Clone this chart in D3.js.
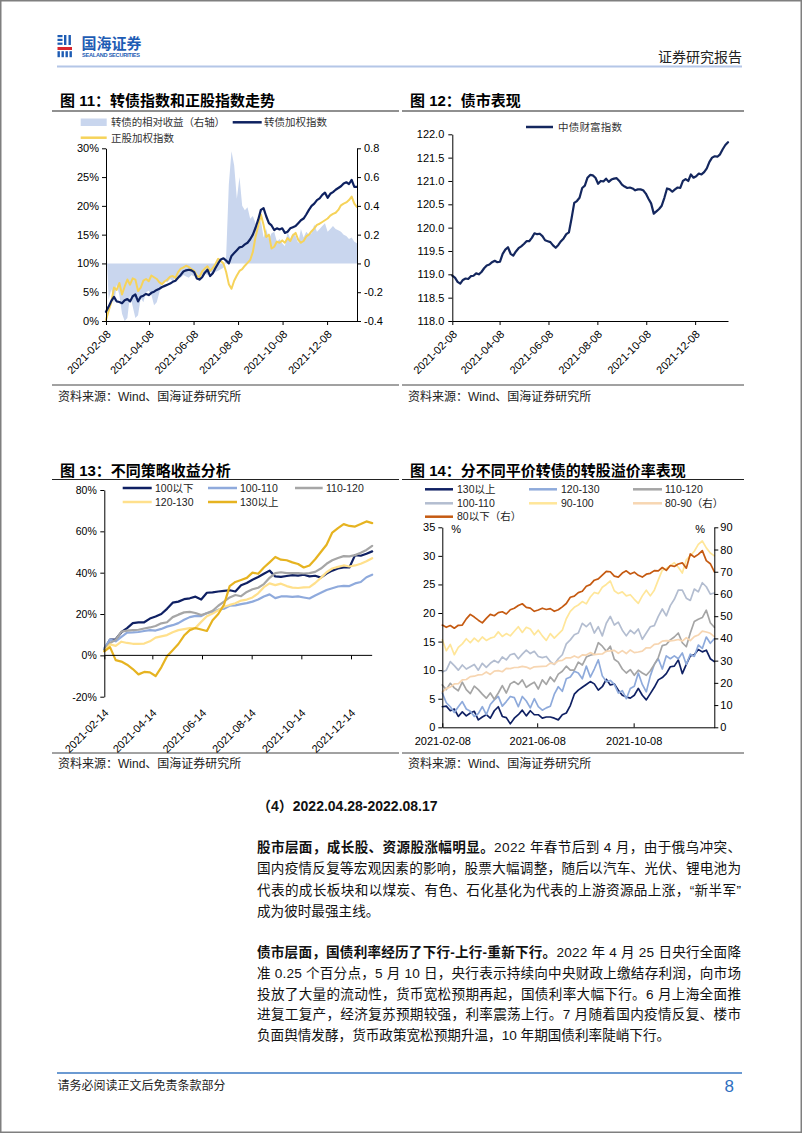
<!DOCTYPE html>
<html><head><meta charset="utf-8">
<script src="https://cdn.jsdelivr.net/npm/d3@7"></script>
<style>
body{margin:0;background:#fff;}
svg{display:block;}
</style></head>
<body><svg id="page" width="802" height="1133"></svg>
<script>
// ---------------- DATA ----------------
// Chart 11 (daily-ish, evenly spread from start to end)
const c11Start = "2021-02-08", c11End = "2022-01-18";
const c11TickDates = ["2021-02-08","2021-04-08","2021-06-08","2021-08-08","2021-10-08","2021-12-08"];
const c11LeftTicks = [0,5,10,15,20,25,30];
const c11RightTicks = [-0.4,-0.2,0,0.2,0.4,0.6,0.8];
const c11RightLabels = ["-0.4","-0.2","0","0.2","0.4","0.6","0.8"];
const c11Names = ["转债的相对收益（右轴）","转债加权指数","正股加权指数"];
const c11Relative = [0.18,-0.25,-0.18,-0.28,-0.15,-0.22,-0.35,-0.40,-0.38,-0.22,-0.30,-0.38,-0.36,-0.24,-0.27,-0.20,-0.19,-0.22,-0.29,-0.27,-0.20,-0.14,-0.12,-0.13,-0.11,-0.12,-0.10,-0.09,-0.10,-0.08,-0.09,-0.10,-0.08,-0.09,-0.07,-0.09,-0.08,-0.07,-0.08,-0.06,-0.07,-0.06,-0.05,-0.04,-0.03,0.05,0.55,0.78,0.68,0.45,0.60,0.40,0.37,0.39,0.31,0.33,0.28,0.24,0.30,0.18,0.24,0.17,0.21,0.22,0.15,0.17,0.14,0.12,0.22,0.17,0.21,0.19,0.14,0.24,0.18,0.22,0.20,0.21,0.27,0.22,0.24,0.26,0.28,0.22,0.24,0.26,0.24,0.23,0.22,0.20,0.19,0.17,0.18,0.15,0.14];
const c11Convert = [1.6,2.5,3.5,4.2,3.4,3.3,3.1,3.6,3.8,3.4,4.3,4.6,3.4,4.2,4.4,4.7,4.5,4.9,5.1,5.4,5.6,5.9,6.1,6.3,6.5,6.8,7.0,7.5,8.0,8.6,8.8,8.9,8.8,8.5,7.4,7.2,7.6,8.4,8.9,7.8,8.3,9.2,10.0,10.7,10.9,10.5,10.0,11.3,11.8,12.3,12.8,12.9,13.3,13.6,14.2,15.0,16.2,17.6,19.3,19.6,18.2,17.0,16.6,15.8,16.1,15.9,16.1,15.3,15.5,16.1,16.3,16.5,17.0,17.5,17.8,18.5,19.3,20.0,20.4,21.0,21.3,21.9,22.3,21.4,22.1,22.4,22.8,23.1,23.4,23.9,24.1,23.8,24.5,23.3,23.3];
const c11Stock = [0.2,1.8,3.3,5.8,5.4,6.6,4.6,6.0,7.2,6.3,7.4,7.2,5.2,5.8,7.0,7.3,6.9,7.9,7.6,7.3,6.7,6.4,6.9,7.2,7.7,7.8,7.5,8.5,9.1,9.3,9.6,9.4,9.0,8.7,7.9,7.6,8.6,9.1,9.5,8.7,9.2,9.9,10.8,10.4,10.0,8.5,6.4,5.6,7.0,7.9,8.7,9.0,9.6,10.1,10.6,12.0,14.6,16.5,18.5,16.7,14.6,15.0,12.6,12.9,13.8,13.6,14.0,13.6,14.4,13.9,14.9,15.3,14.1,13.6,13.9,14.7,15.0,15.6,16.1,16.7,16.9,17.2,17.5,17.8,18.3,18.6,18.8,19.3,20.1,20.4,20.6,21.0,21.6,20.4,19.8];

// Chart 12
const c12Ticks = [118.0,118.5,119.0,119.5,120.0,120.5,121.0,121.5,122.0];
const c12Name = "中债财富指数";
const c12Bond = [118.97,118.93,118.84,118.80,118.88,118.91,118.90,118.96,118.97,119.02,119.00,119.05,119.13,119.19,119.21,119.26,119.29,119.26,119.27,119.44,119.53,119.58,119.44,119.40,119.49,119.56,119.60,119.65,119.71,119.71,119.78,119.88,119.86,119.87,119.82,119.73,119.71,119.69,119.62,119.57,119.63,119.71,119.77,119.86,119.90,120.20,120.53,120.57,120.64,120.85,120.90,121.07,121.13,121.12,121.07,120.94,121.00,120.99,121.05,120.98,121.03,121.05,121.06,121.00,120.92,120.88,120.85,120.86,120.84,120.80,120.82,120.82,120.80,120.73,120.62,120.52,120.30,120.35,120.40,120.47,120.64,120.84,120.82,120.77,120.82,120.86,120.85,121.00,121.04,121.00,121.14,121.07,121.10,121.16,121.14,121.19,121.27,121.41,121.50,121.53,121.52,121.57,121.68,121.77,121.83];

// Chart 13 (weekly from start)
const c13Start = "2021-02-14";
const c13TickDates = ["2021-02-14","2021-04-14","2021-06-14","2021-08-14","2021-10-14","2021-12-14"];
const c13Ticks = [-20,0,20,40,60,80];
const c13Names = ["100以下","100-110","110-120","120-130","130以上"];
const c13Below100 = [2.7,7.6,7.8,11.2,13.2,15.6,16.0,16.0,17.8,18.8,20.0,22.5,25.5,26.0,27.2,27.6,28.4,27.0,30.3,30.5,30.9,31.2,31.5,30.9,33.9,35.0,36.6,37.9,39.5,41.0,38.2,38.0,38.4,38.8,38.6,39.0,38.2,38.5,37.6,39.6,41.0,42.0,42.6,42.5,48.5,48.2,49.2,50.3];
const c13R100_110 = [3.5,7.6,6.8,8.9,11.0,11.1,11.3,11.8,12.2,12.0,12.8,13.9,14.6,15.6,17.2,18.5,19.1,19.0,20.5,21.0,22.1,22.6,24.0,24.2,24.8,25.3,26.0,27.0,28.5,29.5,27.7,28.5,28.5,28.3,28.5,28.0,27.5,29.0,30.3,31.6,32.5,33.3,33.6,33.5,34.8,35.5,37.8,39.0];
const c13R110_120 = [2.7,6.0,7.5,11.5,12.0,12.2,12.4,13.0,13.5,14.2,15.5,16.0,18.5,19.7,20.8,21.0,20.5,19.5,20.4,21.6,24.0,26.0,28.0,29.2,28.6,30.7,32.0,32.7,34.5,37.5,39.8,40.2,39.8,39.8,39.8,39.6,39.8,40.4,42.0,44.3,46.0,47.1,48.0,47.9,48.5,49.6,51.0,53.0];
const c13R120_130 = [2.0,5.3,4.6,6.6,6.0,5.6,5.6,5.7,6.8,8.6,9.2,9.8,11.2,12.2,12.7,13.2,13.3,16.2,18.9,20.2,21.8,23.5,24.4,25.2,26.5,27.0,28.0,30.0,33.0,34.8,34.0,34.7,33.5,32.8,32.6,32.9,33.0,35.0,37.5,40.2,42.0,42.8,43.5,43.0,43.5,44.3,45.5,47.0];
const c13Above130 = [1.9,4.0,-2.3,-3.0,-4.5,-6.6,-9.2,-8.0,-8.2,-10.0,-5.8,-0.4,2.5,5.5,9.6,12.2,13.2,12.5,11.8,17.0,20.0,24.5,33.5,35.5,36.5,37.5,40.0,39.5,42.5,45.0,47.6,46.3,46.0,45.0,44.2,42.5,43.5,46.5,50.0,53.5,59.4,61.6,63.5,62.6,62.3,63.5,64.8,64.0];

// Chart 14 (evenly spread from start to end)
const c14Start = "2021-02-08", c14End = "2022-01-18";
const c14TickDates = ["2021-02-08","2021-06-08","2021-10-08"];
const c14LeftTicks = [0,5,10,15,20,25,30,35];
const c14RightTicks = [0,10,20,30,40,50,60,70,80,90];
const c14Names = ["130以上","120-130","110-120","100-110","90-100","80-90（右）","80以下（右）"];
const c14Above130 = [3.6,3.7,2.9,3.2,1.9,2.7,2.0,2.5,2.8,1.3,1.8,2.2,1.6,2.9,3.6,1.9,1.7,0.6,1.6,2.2,3.0,2.0,2.9,2.2,2.2,1.6,1.8,1.8,1.6,1.3,2.2,2.5,3.8,5.8,6.5,7.0,7.5,8.0,7.6,6.5,7.1,8.4,7.4,7.6,6.5,5.6,5.3,5.1,5.6,6.8,5.6,4.8,5.9,7.0,8.3,8.7,9.4,10.6,10.7,11.8,9.4,11.0,12.5,12.7,13.6,13.2,13.5,12.0,11.5];
const c14R120_130 = [6.0,4.3,3.6,2.6,3.6,4.5,3.2,2.8,1.9,2.4,3.6,2.2,4.0,4.8,5.4,3.7,4.5,5.4,5.2,3.6,5.4,4.6,3.4,5.0,3.6,3.0,3.4,3.7,5.8,7.1,6.3,8.5,8.8,9.8,9.5,8.5,10.7,8.8,10.2,11.8,9.0,8.0,8.2,7.5,6.0,6.4,5.0,6.8,7.2,9.5,7.5,6.2,9.0,11.0,12.0,10.2,12.5,12.0,12.5,12.0,13.0,11.0,12.8,12.4,14.4,13.8,15.8,14.7,15.5];
const c14R110_120 = [7.4,6.6,7.7,6.9,6.4,7.9,6.6,5.9,7.2,6.6,5.8,5.1,6.0,4.9,6.0,7.3,6.0,7.6,8.0,7.5,8.3,7.0,7.5,7.9,6.7,8.3,7.5,8.8,8.0,9.3,9.8,10.7,10.0,10.0,11.4,10.9,12.3,12.6,12.8,14.8,14.2,13.3,14.2,11.9,11.4,10.2,9.5,10.1,9.1,10.0,9.5,9.1,9.9,11.0,12.2,14.3,14.5,15.3,15.8,16.5,14.8,14.1,16.5,18.5,18.9,19.2,20.5,18.3,17.5];
const c14R100_110 = [9.7,10.0,11.5,10.8,10.0,10.9,10.2,10.6,11.0,10.0,11.2,10.5,11.2,11.7,11.3,12.3,11.8,12.7,12.9,12.0,12.8,13.5,12.9,13.3,12.4,12.2,12.4,11.5,11.0,12.0,12.7,14.6,15.3,16.2,16.5,18.2,17.6,18.3,16.5,17.6,16.0,18.2,19.4,17.9,18.4,17.0,16.0,17.0,16.4,17.2,15.4,16.5,17.6,17.8,19.4,20.7,19.5,21.3,22.4,24.0,24.0,22.6,22.2,24.2,23.7,25.3,24.6,23.3,23.5];
const c14R90_100 = [15.3,13.4,14.5,12.7,14.0,14.6,15.5,14.8,15.6,15.0,15.8,15.2,15.6,15.8,16.7,15.9,16.4,16.0,16.8,17.6,16.6,17.5,17.2,16.2,17.0,16.0,15.2,16.4,15.6,16.3,17.0,19.0,20.3,21.0,21.4,22.0,21.6,22.8,23.6,23.4,24.5,25.0,25.6,23.9,23.4,23.7,23.0,23.2,22.4,21.7,23.0,24.0,23.0,24.0,25.8,27.5,27.8,28.3,28.8,28.0,27.0,29.3,30.0,30.8,32.0,32.6,31.4,30.5,30.0];
const c14R80_90 = [16.0,17.4,18.1,19.5,19.6,21.3,21.5,22.8,23.0,23.6,23.7,24.9,23.8,25.3,25.5,25.0,26.5,26.4,26.9,27.0,27.4,27.1,26.3,27.2,27.3,27.4,27.5,28.9,28.5,29.9,30.1,31.3,31.2,32.1,31.3,32.6,32.5,33.6,32.7,32.9,33.0,34.3,34.4,34.6,33.3,34.5,33.2,34.8,33.6,33.9,34.3,35.8,35.7,37.3,37.5,38.8,39.0,38.9,39.1,39.5,38.8,40.3,39.0,40.8,41.5,43.3,42.9,42.3,40.8];
const c14Below80 = [46.0,45.0,45.8,44.6,45.9,46.0,48.8,50.8,49.6,48.2,47.0,49.0,50.8,50.2,51.6,52.0,51.0,52.9,53.6,54.8,55.6,54.0,53.6,52.2,52.8,53.6,53.0,53.4,52.2,52.9,54.2,55.7,58.5,59.0,60.6,61.2,63.5,64.2,66.2,66.8,68.5,70.2,70.0,68.0,67.6,69.4,70.4,69.0,69.8,68.4,67.6,68.9,69.3,70.5,70.4,71.9,70.6,72.8,72.4,73.5,74.0,71.6,78.0,76.6,77.8,79.5,75.0,73.6,70.0];

// Text
const headerRight = "证券研究报告";
const sourceText = "资料来源：Wind、国海证券研究所";
const footerText = "请务必阅读正文后免责条款部分";
const pageNo = "8";
const sectionHead = "（4）2022.04.28-2022.08.17";
const para1 = [
  [["股市层面，成长股、资源股涨幅明显。", true], ["2022 年春节后到 4 月，由于俄乌冲突、", false]],
  [["国内疫情反复等宏观因素的影响，股票大幅调整，随后以汽车、光伏、锂电池为", false]],
  [["代表的成长板块和以煤炭、有色、石化基化为代表的上游资源品上涨，“新半军”", false]],
  [["成为彼时最强主线。", false]]
];
const para2 = [
  [["债市层面，国债利率经历了下行-上行-重新下行。", true], ["2022 年 4 月 25 日央行全面降", false]],
  [["准 0.25 个百分点，5 月 10 日，央行表示持续向中央财政上缴结存利润，向市场", false]],
  [["投放了大量的流动性，货币宽松预期再起，国债利率大幅下行。6 月上海全面推", false]],
  [["进复工复产，经济复苏预期较强，利率震荡上行。7 月随着国内疫情反复、楼市", false]],
  [["负面舆情发酵，货币政策宽松预期升温，10 年期国债利率陡峭下行。", false]]
];

// ---------------- DRAW ----------------
const ARIAL = '"Liberation Sans","Noto Sans CJK SC",sans-serif';
const CJK = '"Noto Sans CJK SC",sans-serif';
const svg = d3.select("#page");
const parse = d3.utcParse("%Y-%m-%d");
const fmt = d3.utcFormat("%Y-%m-%d");

function spreadDates(start, end, n) {
  const s = d3.scaleLinear().domain([0, n - 1]).range([+parse(start), +parse(end)]);
  return d3.range(n).map(i => new Date(s(i)));
}
function styleAxis(g, fs) {
  g.attr("font-family", ARIAL).attr("font-size", fs);
  g.selectAll("path.domain").attr("stroke", "#000").attr("stroke-width", 1);
  g.selectAll(".tick line").attr("stroke", "#000");
  g.selectAll("text").attr("fill", "#000");
}
function rule(x1, x2, y, color, w) {
  svg.append("line").attr("x1", x1).attr("x2", x2).attr("y1", y).attr("y2", y)
    .attr("stroke", color).attr("stroke-width", w);
}
function txt(x, y, s, opt) {
  opt = opt || {};
  return svg.append("text").attr("x", x).attr("y", y).text(s)
    .attr("font-family", opt.ff || CJK).attr("font-size", opt.fs || 12)
    .attr("font-weight", opt.fw || 400).attr("fill", opt.fill || "#000")
    .attr("text-anchor", opt.anchor || "start")
    .attr("letter-spacing", opt.ls || 0);
}
function drawLine(g, dates, vals, x, y, color, w) {
  g.append("path").datum(vals)
    .attr("d", d3.line().x((d, i) => x(dates[i])).y(d => y(d)))
    .attr("fill", "none").attr("stroke", color).attr("stroke-width", w)
    .attr("stroke-linejoin", "round").attr("stroke-linecap", "round");
}
function legLine(x1, x2, y, color, w, label, tx, fs, ff) {
  rule(x1, x2, y, color, w);
  txt(tx, y + fs * 0.36, label, {ff: ff || ARIAL, fs: fs, fill: "#222"});
}

// page border
svg.append("rect").attr("x", 0.75).attr("y", 0.75).attr("width", 800.5).attr("height", 1131.5)
  .attr("fill", "none").attr("stroke", "#7f7f7f").attr("stroke-width", 1.5);

// header logo
const blue = "#1d5cb4", red = "#d7262e";
[[57.5,35,5,2.2],[57.5,38.8,5,2.2],[57.5,42.6,5,2.2],[64,35,2.4,10],[68.5,35,2.4,10],
 [57.5,51.2,2.4,6],[61.5,51.2,2.4,6],[65.5,51.2,2.4,6],[69.5,51.2,2.4,6]].forEach(r =>
  svg.append("rect").attr("x", r[0]).attr("y", r[1]).attr("width", r[2]).attr("height", r[3]).attr("fill", blue));
svg.append("rect").attr("x", 57.5).attr("y", 47).attr("width", 14.5).attr("height", 3).attr("fill", red);
txt(81.5, 48.5, "国海证券", {fs: 15, fw: 700, fill: blue});
txt(82, 57, "SEALAND SECURITIES", {ff: ARIAL, fs: 5.6, fw: 700, fill: blue}).attr("textLength", 58);
txt(742, 62, headerRight, {fs: 14, anchor: "end", fill: "#222"});
rule(57, 742, 66.5, "#b4c6e7", 2);

// panel titles / rules / sources
function panelFrame(x0, x1, title, ty, lineY, srcY, srcLineY) {
  txt(x0 + 4, ty, title, {ff: ARIAL, fs: 15, fw: 700});
  rule(x0 - 4, x1, lineY, "#222", 1.2);
  rule(x0 - 4, x1, srcLineY, "#444", 1);
  txt(x0 + 2, srcY, sourceText, {ff: ARIAL, fs: 12, fill: "#222"});
}
panelFrame(56, 399, "图 11：转债指数和正股指数走势", 105.5, 111, 401, 385);
panelFrame(406, 744, "图 12：债市表现", 105.5, 111, 401, 385);
panelFrame(56, 399, "图 13：不同策略收益分析", 475.5, 479.5, 767.5, 753);
panelFrame(406, 744, "图 14：分不同平价转债的转股溢价率表现", 475.5, 479.5, 767.5, 753);

// ---------- Chart 11 ----------
(function () {
  const L = 106, R = 357, T = 148.3, B = 321;
  const x = d3.scaleUtc().domain([parse(c11Start), parse(c11End)]).range([L, R]);
  const yL = d3.scaleLinear().domain([0, 30]).range([B, T]);
  const yR = d3.scaleLinear().domain([-0.4, 0.8]).range([B, T]);
  const g = svg.append("g");
  const dRel = spreadDates(c11Start, c11End, c11Relative.length);
  g.append("path").datum(c11Relative)
    .attr("d", d3.area().x((d, i) => x(dRel[i])).y0(yR(0)).y1(d => yR(d)))
    .attr("fill", "#c9d6ee");
  drawLine(g, spreadDates(c11Start, c11End, c11Stock.length), c11Stock, x, yL, "#f6d35a", 2);
  drawLine(g, spreadDates(c11Start, c11End, c11Convert.length), c11Convert, x, yL, "#0e2160", 2.2);
  const ax = svg.append("g").attr("transform", `translate(${L},0)`)
    .call(d3.axisLeft(yL).tickValues(c11LeftTicks).tickFormat(d => d + "%").tickSize(4).tickSizeOuter(0).tickPadding(3));
  styleAxis(ax, 11);
  const ar = svg.append("g").attr("transform", `translate(${R},0)`)
    .call(d3.axisRight(yR).tickValues(c11RightTicks).tickFormat((d, i) => c11RightLabels[i]).tickSize(4).tickSizeOuter(0).tickPadding(3));
  styleAxis(ar, 11);
  const ab = svg.append("g").attr("transform", `translate(0,${B})`)
    .call(d3.axisBottom(x).tickValues(c11TickDates.map(parse)).tickFormat(fmt).tickSize(4).tickSizeOuter(0));
  styleAxis(ab, 11);
  ab.selectAll(".tick text").attr("x", 0).attr("y", 0).attr("dy", 0)
    .attr("text-anchor", "end").attr("transform", "translate(5,14) rotate(-45)");
  // legend
  svg.append("rect").attr("x", 80.7).attr("y", 118.5).attr("width", 26).attr("height", 7.5).attr("fill", "#c9d6ee");
  txt(111, 126, c11Names[0], {fs: 10.5, fill: "#333"}).attr("textLength", 114).attr("lengthAdjust", "spacing");
  rule(232.7, 261.7, 122.3, "#0e2160", 2.5);
  txt(264, 126, c11Names[1], {fs: 10.5, fill: "#333"}).attr("textLength", 63).attr("lengthAdjust", "spacing");
  rule(80.7, 106.7, 137.7, "#f6d35a", 2.5);
  txt(111, 141.5, c11Names[2], {fs: 10.5, fill: "#333"}).attr("textLength", 63).attr("lengthAdjust", "spacing");
})();

// ---------- Chart 12 ----------
(function () {
  const L = 452.3, R = 728, T = 134.3, B = 321;
  const x = d3.scaleUtc().domain([parse(c11Start), parse(c11End)]).range([L, R]);
  const y = d3.scaleLinear().domain([118, 122]).range([B, T]);
  const g = svg.append("g");
  drawLine(g, spreadDates(c11Start, c11End, c12Bond.length), c12Bond, x, y, "#14275e", 2.2);
  const al = svg.append("g").attr("transform", `translate(${L},0)`)
    .call(d3.axisLeft(y).tickValues(c12Ticks).tickFormat(d3.format(".1f")).tickSize(4).tickSizeOuter(0).tickPadding(4));
  styleAxis(al, 11);
  const ab = svg.append("g").attr("transform", `translate(0,${B})`)
    .call(d3.axisBottom(x).tickValues(c11TickDates.map(parse)).tickFormat(fmt).tickSize(4).tickSizeOuter(0));
  styleAxis(ab, 11);
  ab.selectAll(".tick text").attr("x", 0).attr("y", 0).attr("dy", 0)
    .attr("text-anchor", "end").attr("transform", "translate(5,14) rotate(-45)");
  rule(526, 553, 127, "#14275e", 2.5);
  txt(558, 131, c12Name, {fs: 10.5, fill: "#333"}).attr("textLength", 64).attr("lengthAdjust", "spacing");
})();

// ---------- Chart 13 ----------
(function () {
  const L = 104.3, T = 490, B = 696.7;
  const x = d3.scaleUtc().domain([parse("2021-02-14"), parse("2021-12-14")]).range([L, 351]);
  const y = d3.scaleLinear().domain([-20, 80]).range([B, T]);
  const series = [c13Below100, c13R100_110, c13R110_120, c13R120_130, c13Above130];
  const colors = ["#0f2063", "#8faadc", "#a6a6a6", "#ffe08c", "#e6b320"];
  const g = svg.append("g");
  series.forEach((s, k) => {
    const dates = s.map((_, i) => d3.utcDay.offset(parse(c13Start), 7 * i));
    drawLine(g, dates, s, x, y, colors[k], 2.2);
  });
  const lastX = x(d3.utcDay.offset(parse(c13Start), 7 * (c13Below100.length - 1)));
  const al = svg.append("g").attr("transform", `translate(${L},0)`)
    .call(d3.axisLeft(y).tickValues(c13Ticks).tickFormat(d => d + "%").tickSize(4).tickSizeOuter(0).tickPadding(3.5));
  styleAxis(al, 10.5);
  const ab = svg.append("g").attr("transform", `translate(0,${y(0)})`)
    .call(d3.axisBottom(x).tickValues(c13TickDates.map(parse)).tickFormat("").tickSize(4).tickSizeOuter(0));
  styleAxis(ab, 11);
  ab.select("path.domain").attr("d", `M${L},0H${lastX}`);
  const lab = svg.append("g").attr("font-family", ARIAL).attr("font-size", 11);
  c13TickDates.forEach(d => {
    lab.append("text").text(d).attr("text-anchor", "end").attr("fill", "#000")
      .attr("transform", `translate(${x(parse(d)) + 5},${B + 17}) rotate(-45)`);
  });
  // legend
  const lx = [[122.7, 151.7, 155], [208, 237, 240], [295, 322.7, 326]];
  const ly = [488, 488, 488, 502, 502];
  const li = [0, 1, 2, 0, 1];
  c13Names.forEach((n, k) => legLine(lx[li[k]][0], lx[li[k]][1], ly[k], colors[k], 2.5, n, lx[li[k]][2], 10.5));
})();

// ---------- Chart 14 ----------
(function () {
  const L = 442.3, R = 714.3, T = 527.3, B = 727.3;
  const x = d3.scaleUtc().domain([parse(c14Start), parse(c14End)]).range([L, R]);
  const yL = d3.scaleLinear().domain([0, 35]).range([B, T]);
  const yR = d3.scaleLinear().domain([0, 90]).range([B, T]);
  const series = [c14Above130, c14R120_130, c14R110_120, c14R100_110, c14R90_100, c14R80_90, c14Below80];
  const colors = ["#0f2063", "#8eaadb", "#a5a5a5", "#b3bdd0", "#ffe699", "#f7d6b2", "#c55a11"];
  const useRight = [false, false, false, false, false, true, true];
  const g = svg.append("g");
  series.forEach((s, k) => {
    drawLine(g, spreadDates(c14Start, c14End, s.length), s, x, useRight[k] ? yR : yL, colors[k], 1.7);
  });
  const al = svg.append("g").attr("transform", `translate(${L},0)`)
    .call(d3.axisLeft(yL).tickValues(c14LeftTicks).tickSize(4).tickSizeOuter(0).tickPadding(3));
  styleAxis(al, 11);
  const ar = svg.append("g").attr("transform", `translate(${R},0)`)
    .call(d3.axisRight(yR).tickValues(c14RightTicks).tickSize(4).tickSizeOuter(0).tickPadding(2));
  styleAxis(ar, 11);
  const ab = svg.append("g").attr("transform", `translate(0,${B})`)
    .call(d3.axisBottom(x).tickValues(c14TickDates.map(parse)).tickFormat(fmt).tickSize(-4).tickSizeOuter(0).tickPadding(10));
  styleAxis(ab, 11);
  txt(L + 9, T + 6, "%", {ff: ARIAL, fs: 11});
  txt(R - 19, T + 6, "%", {ff: ARIAL, fs: 11});
  const cols = [[425, 453, 457], [529, 557, 561], [633, 662, 665]];
  const rows = [489.3, 503.3, 516.7];
  c14Names.forEach((n, k) => {
    const c = cols[k % 3], r = rows[Math.floor(k / 3)];
    legLine(c[0], c[1], r, colors[k], 2.5, n, c[2], 10.5);
  });
})();

// ---------- Body text ----------
txt(257, 811, sectionHead, {ff: ARIAL, fs: 14, fw: 700, fill: "#111"});
function para(lines, y0, step) {
  lines.forEach((line, i) => {
    const t = svg.append("text").attr("x", 257).attr("y", y0 + i * step)
      .attr("font-family", ARIAL).attr("font-size", 13.6).attr("fill", "#111");
    line.forEach(seg => t.append("tspan").text(seg[0]).attr("font-weight", seg[1] ? 700 : 400));
    if (i < lines.length - 1) t.attr("textLength", 484).attr("lengthAdjust", "spacing");
  });
}
para(para1, 852, 21.3);
para(para2, 957, 20.8);

// footer
rule(57, 742, 1073, "#3a78c3", 1.5);
txt(57.5, 1090, footerText, {fs: 12, fill: "#222"});
txt(734, 1092, pageNo, {ff: ARIAL, fs: 17, fill: "#2f6fc0", anchor: "end"});
</script>
</body></html>
